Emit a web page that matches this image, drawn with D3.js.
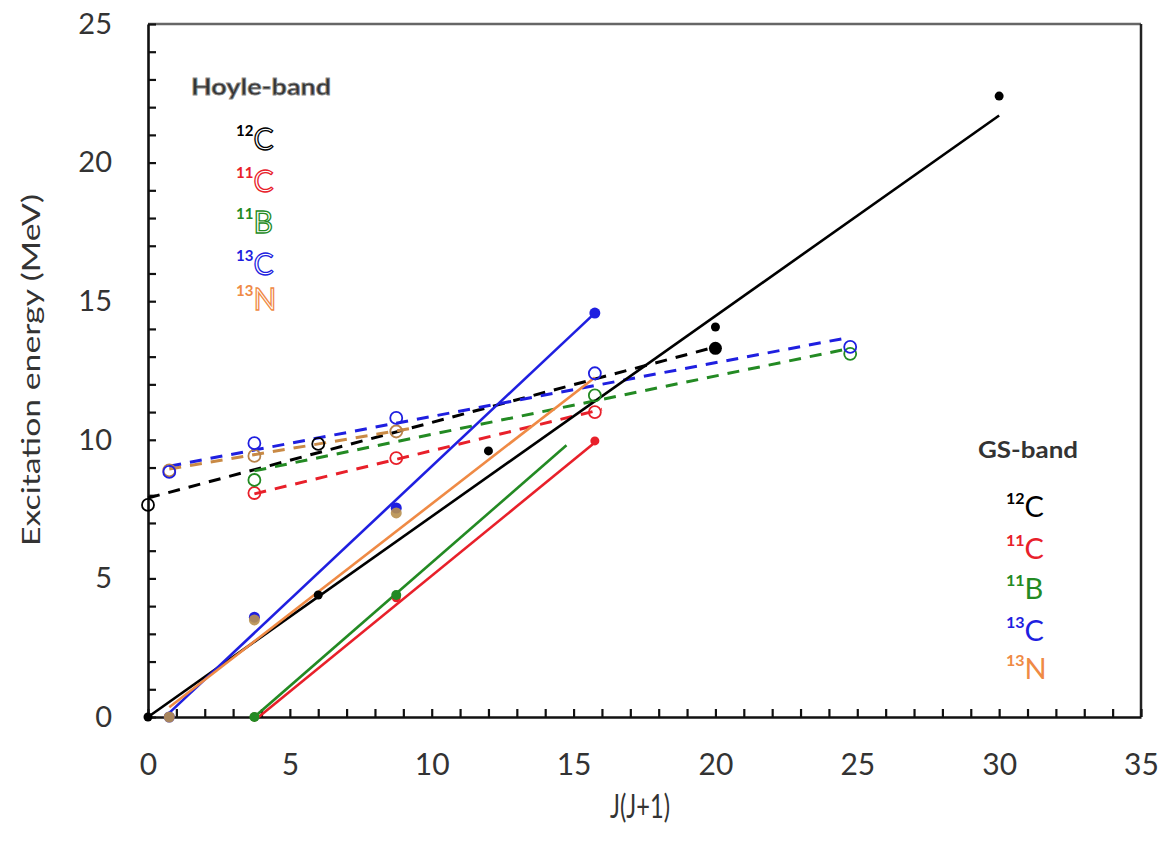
<!DOCTYPE html>
<html>
<head>
<meta charset="utf-8">
<script src="https://cdn.jsdelivr.net/npm/d3@7/dist/d3.min.js"></script>
<style>
  html, body { margin: 0; padding: 0; background: #fff; }
  svg { display: block; }
</style>
</head>
<body>
<svg id="chart" width="1160" height="842"></svg>
<script>
// ---------- tick labels ----------
const xTickLabels = ["0", "5", "10", "15", "20", "25", "30", "35"];
const yTickLabels = ["0", "5", "10", "15", "20", "25"];

// ---------- GS-band measured levels (J(J+1), MeV) ----------
const gs12C_J = [0, 6, 12, 20, 30];
const gs12C_E = [0, 4.4, 9.6, 14.07, 22.4];
const gs11C_J = [3.75, 8.75, 15.75];
const gs11C_E = [0, 4.3, 9.96];
const gs11B_J = [3.75, 8.75];
const gs11B_E = [0, 4.4];
const gs13C_J = [0.75, 3.75, 8.75, 15.75];
const gs13C_E = [0, 3.6, 7.54, 14.57];
const gs13N_J = [0.75, 3.75, 8.75];
const gs13N_E = [0, 3.5, 7.36];

// ---------- Hoyle-band measured levels ----------
const hoyle12C_J = [0, 6];
const hoyle12C_E = [7.65, 9.85];
const hoyle12C4_J = [20];
const hoyle12C4_E = [13.3];
const hoyle11C_J = [3.75, 8.75, 15.75];
const hoyle11C_E = [8.08, 9.34, 11.0];
const hoyle11B_J = [3.75, 15.75, 24.75];
const hoyle11B_E = [8.55, 11.6, 13.1];
const hoyle13C_J = [0.75, 3.75, 8.75, 15.75, 24.75];
const hoyle13C_E = [8.84, 9.88, 10.79, 12.4, 13.35];
const hoyle13N_J = [0.75, 3.75, 8.75];
const hoyle13N_E = [8.9, 9.42, 10.3];

// ---------- linear fits (end points) ----------
const fitGs12C_J = [0, 30];       const fitGs12C_E = [0, 21.7];
const fitGs11C_J = [3.9, 15.75];  const fitGs11C_E = [0, 9.9];
const fitGs11B_J = [3.75, 14.75]; const fitGs11B_E = [0, 9.8];
const fitGs13C_J = [0.75, 15.75]; const fitGs13C_E = [0.15, 14.57];
const fitGs13N_J = [0.75, 15.75]; const fitGs13N_E = [0.35, 12.25];

const fitHoyle12C_J = [0, 20];     const fitHoyle12C_E = [7.9, 13.35];
const fitHoyle11C_J = [3.75, 16];  const fitHoyle11C_E = [8.05, 11.1];
const fitHoyle11B_J = [3.75, 24.75]; const fitHoyle11B_E = [8.88, 13.3];
const fitHoyle13C_J = [0.75, 24.75]; const fitHoyle13C_E = [9.05, 13.7];
const fitHoyle13N_J = [0.75, 9.5];   const fitHoyle13N_E = [8.95, 10.45];

// ---------- legend ----------
const nuclideMass = ["12", "11", "11", "13", "13"];
const nuclideSym  = ["C", "C", "B", "C", "N"];

// ---------- styles ----------
const COL = { c12: "#000000", c11: "#e8202a", b11: "#238a23", c13: "#1f1fe0", n13: "#ef8a45" };
const legendCols = [COL.c12, COL.c11, COL.b11, COL.c13, COL.n13];
const FONT = "Lato, 'Open Sans', sans-serif";

const svg = d3.select("#chart");
const x = d3.scaleLinear().domain([0, 35]).range([148, 1141]);
const y = d3.scaleLinear().domain([0, 25]).range([717, 24]);
const zip = (a, b) => a.map((v, i) => [v, b[i]]);

// frame top / right
svg.append("line").attr("x1", x(0)).attr("x2", x(35)).attr("y1", y(25)).attr("y2", y(25))
  .attr("stroke", "#666").attr("stroke-width", 2.5);
svg.append("line").attr("x1", x(35)).attr("x2", x(35)).attr("y1", y(25)).attr("y2", y(0))
  .attr("stroke", "#222").attr("stroke-width", 2.5);

// axes
const xAxis = d3.axisBottom(x).tickValues(d3.range(0, 36, 1)).tickSizeInner(-8).tickSizeOuter(0)
  .tickPadding(37).tickFormat(d => d % 5 === 0 ? xTickLabels[d / 5] : "");
const gx = svg.append("g").attr("transform", `translate(0,${y(0)})`).call(xAxis);
const yAxis = d3.axisLeft(y).tickValues(d3.range(0, 26, 1)).tickSizeInner(-8).tickSizeOuter(0)
  .tickPadding(36).tickFormat(d => d % 5 === 0 ? yTickLabels[d / 5] : "");
const gy = svg.append("g").attr("transform", `translate(${x(0)},0)`).call(yAxis);
[gx, gy].forEach(g => {
  g.select(".domain").attr("stroke", "#111").attr("stroke-width", 2.6);
  g.selectAll(".tick line").attr("stroke", "#111").attr("stroke-width", 2.2);
  g.selectAll(".tick text").attr("fill", "#333").style("font-family", FONT);
});
gx.selectAll(".tick text").style("font-size", "30px");
gy.selectAll(".tick text").style("font-size", "29px");

// axis titles
svg.append("text").attr("x", 640).attr("y", 818).attr("text-anchor", "middle")
  .style("font-family", FONT).style("font-size", "32px").attr("fill", "#333")
  .attr("textLength", 60).attr("lengthAdjust", "spacingAndGlyphs").text("J(J+1)");
svg.append("text").attr("transform", "translate(40,370) rotate(-90)").attr("text-anchor", "middle")
  .style("font-family", FONT).style("font-size", "25px").attr("fill", "#333")
  .attr("textLength", 352).attr("lengthAdjust", "spacingAndGlyphs")
  .text("Excitation energy (MeV)");

// fit lines
const line = d3.line().x(d => x(d[0])).y(d => y(d[1]));
const fits = [
  [fitHoyle12C_J, fitHoyle12C_E, COL.c12, true],
  [fitHoyle11C_J, fitHoyle11C_E, COL.c11, true],
  [fitHoyle11B_J, fitHoyle11B_E, COL.b11, true],
  [fitHoyle13N_J, fitHoyle13N_E, "#c98a45", true],
  [fitHoyle13C_J, fitHoyle13C_E, COL.c13, true],
  [fitGs12C_J, fitGs12C_E, COL.c12, false],
  [fitGs11C_J, fitGs11C_E, COL.c11, false],
  [fitGs11B_J, fitGs11B_E, COL.b11, false],
  [fitGs13C_J, fitGs13C_E, COL.c13, false],
  [fitGs13N_J, fitGs13N_E, COL.n13, false]
];
fits.forEach(([J, E, c, dashed]) => {
  svg.append("path").datum(zip(J, E)).attr("d", line).attr("fill", "none")
    .attr("stroke", c).attr("stroke-width", dashed ? 3 : 2.6)
    .attr("stroke-dasharray", dashed ? "12,9" : null);
});

// open markers (Hoyle band)
const openSets = [
  [hoyle12C_J, hoyle12C_E, COL.c12],
  [hoyle11C_J, hoyle11C_E, COL.c11],
  [hoyle11B_J, hoyle11B_E, COL.b11],
  [hoyle13N_J, hoyle13N_E, "#b8834a"],
  [hoyle13C_J, hoyle13C_E, COL.c13]
];
openSets.forEach(([J, E, c]) => {
  svg.append("g").selectAll("circle").data(zip(J, E)).join("circle")
    .attr("cx", d => x(d[0])).attr("cy", d => y(d[1])).attr("r", 6)
    .attr("fill", "none").attr("stroke", c).attr("stroke-width", 1.8);
});

// filled markers (GS band)
const filledSets = [
  [gs11C_J, gs11C_E, COL.c11, 4.5, 1],
  [gs11B_J, gs11B_E, COL.b11, 5, 1],
  [gs13C_J, gs13C_E, COL.c13, 5.5, 1],
  [gs13N_J, gs13N_E, "#b8904f", 5.5, 0.9],
  [gs12C_J, gs12C_E, COL.c12, 4.5, 1],
  [hoyle12C4_J, hoyle12C4_E, COL.c12, 6.5, 1]
];
filledSets.forEach(([J, E, c, r, op]) => {
  svg.append("g").selectAll("circle").data(zip(J, E)).join("circle")
    .attr("cx", d => x(d[0])).attr("cy", d => y(d[1])).attr("r", r)
    .attr("fill", c).attr("fill-opacity", op);
});

// Hoyle-band legend
svg.append("text").attr("x", 191).attr("y", 95)
  .style("font-family", FONT).style("font-size", "23px").style("font-weight", "bold")
  .attr("fill", "#333").attr("stroke", "#888").attr("stroke-width", 0.8)
  .attr("textLength", 140).attr("lengthAdjust", "spacingAndGlyphs").text("Hoyle-band");
const hoyleBase = [150, 192, 233, 275, 310];
nuclideSym.forEach((s, i) => {
  const t = svg.append("text").attr("x", 236).attr("y", hoyleBase[i]).style("font-family", FONT);
  t.append("tspan").attr("dy", -14).style("font-size", "15px").style("font-weight", "bold")
    .attr("fill", legendCols[i]).text(nuclideMass[i]);
  t.append("tspan").attr("dy", 14).style("font-size", "30px")
    .attr("fill", "#fff").attr("stroke", legendCols[i]).attr("stroke-width", 1.3).text(s);
});

// GS-band legend
svg.append("text").attr("x", 978).attr("y", 458)
  .style("font-family", FONT).style("font-size", "22px").style("font-weight", "bold")
  .attr("fill", "#333").attr("textLength", 100).attr("lengthAdjust", "spacingAndGlyphs").text("GS-band");
const gsBase = [517, 559, 599, 641, 679];
nuclideSym.forEach((s, i) => {
  const t = svg.append("text").attr("x", 1006).attr("y", gsBase[i]).style("font-family", FONT)
    .attr("fill", legendCols[i]);
  t.append("tspan").attr("dy", -13).style("font-size", "16px").style("font-weight", "bold").text(nuclideMass[i]);
  t.append("tspan").attr("dy", 13).style("font-size", "29px").text(s);
});
</script>
</body>
</html>
